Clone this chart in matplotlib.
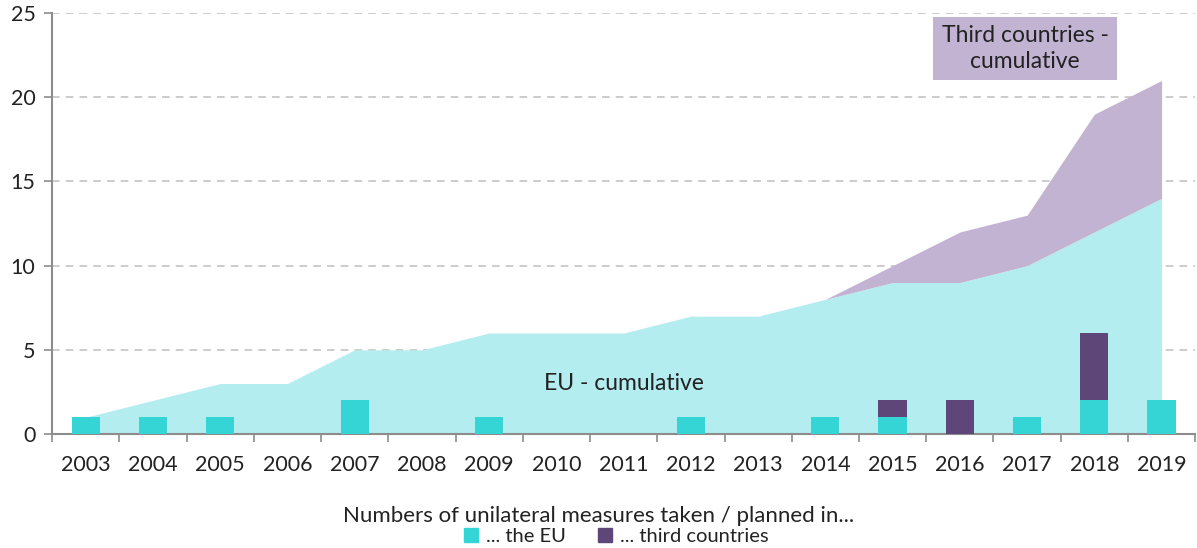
import numpy as np
import matplotlib.pyplot as plt
from matplotlib.patches import Patch

years = [str(y) for y in range(2003, 2020)]
eu_new = [1, 1, 1, 0, 2, 0, 1, 0, 0, 1, 0, 1, 1, 0, 1, 2, 2]
third_new = [0, 0, 0, 0, 0, 0, 0, 0, 0, 0, 0, 0, 1, 2, 0, 4, 0]
eu_cum = [1, 2, 3, 3, 5, 5, 6, 6, 6, 7, 7, 8, 9, 9, 10, 12, 14]
third_cum = [0, 0, 0, 0, 0, 0, 0, 0, 0, 0, 0, 0, 1, 3, 3, 7, 7]

c_bar_eu = "#36d5d5"
c_bar_third = "#5e4778"
c_area_eu = "#b3edef"
c_area_third = "#c3b3d3"
grey = "#8c8c8c"
txt = "#222222"

plt.rcParams['font.family'] = ['Lato', 'DejaVu Sans']

fig = plt.figure(figsize=(11.97, 5.48), dpi=100)
ax = fig.add_axes([0.0435, 0.208, 0.955, 0.768])

x = np.arange(len(years))
eu_cum = np.array(eu_cum)
total = eu_cum + np.array(third_cum)
ax.fill_between(x, 0, eu_cum, color=c_area_eu, lw=0, zorder=1)
ax.fill_between(x, eu_cum, total, color=c_area_third, lw=0, zorder=1)

ax.bar(x, eu_new, width=0.42, color=c_bar_eu, zorder=3)
ax.bar(x, third_new, width=0.42, bottom=eu_new, color=c_bar_third, zorder=3)

ax.set_xlim(-0.5, len(years) - 0.5)
ax.set_ylim(0, 25)
ax.set_yticks([0, 5, 10, 15, 20, 25])
ax.yaxis.grid(True, linestyle=(0, (5, 4)), color="#bfbfbf", lw=1.1, zorder=0)
ax.set_axisbelow(True)

ax.set_xticks(x)
ax.set_xticklabels(years)
ax.set_xticks(np.arange(-0.5, len(years)), minor=True)
ax.tick_params(axis='x', which='major', length=0, pad=15, labelsize=15.5, colors=txt)
ax.tick_params(axis='x', which='minor', length=6, width=1.2, color=grey, direction='out')
ax.tick_params(axis='y', length=6, width=1.2, color=grey, labelsize=15.5, labelcolor=txt, pad=6)

for s in ['top', 'right']:
    ax.spines[s].set_visible(False)
for s in ['left', 'bottom']:
    ax.spines[s].set_color(grey)
    ax.spines[s].set_linewidth(1.5)

ax.text(8, 3.0, "EU - cumulative", ha='center', va='center', fontsize=16.5, color=txt, zorder=4)
ax.text(13.97, 22.9, "Third countries -\ncumulative", ha='center', va='center', fontsize=16.5,
        color=txt, linespacing=1.25, zorder=4,
        bbox=dict(boxstyle='square,pad=0.38', fc=c_area_third, ec='none'))

fig.text(0.5, 1 - 516 / 548, "Numbers of unilateral measures taken / planned in...",
         ha='center', va='center', fontsize=16, color=txt)

handles = [Patch(color=c_bar_eu, label="... the EU"),
           Patch(color=c_bar_third, label="... third countries")]
fig.legend(handles=handles, loc='center', bbox_to_anchor=(0.515, 1 - 536.5 / 548), ncol=2,
           frameon=False, fontsize=14.5, handlelength=0.7, handleheight=0.7,
           handletextpad=0.4, columnspacing=1.6, labelcolor=txt, borderpad=0.0)

fig.savefig("out.png", dpi=100)
